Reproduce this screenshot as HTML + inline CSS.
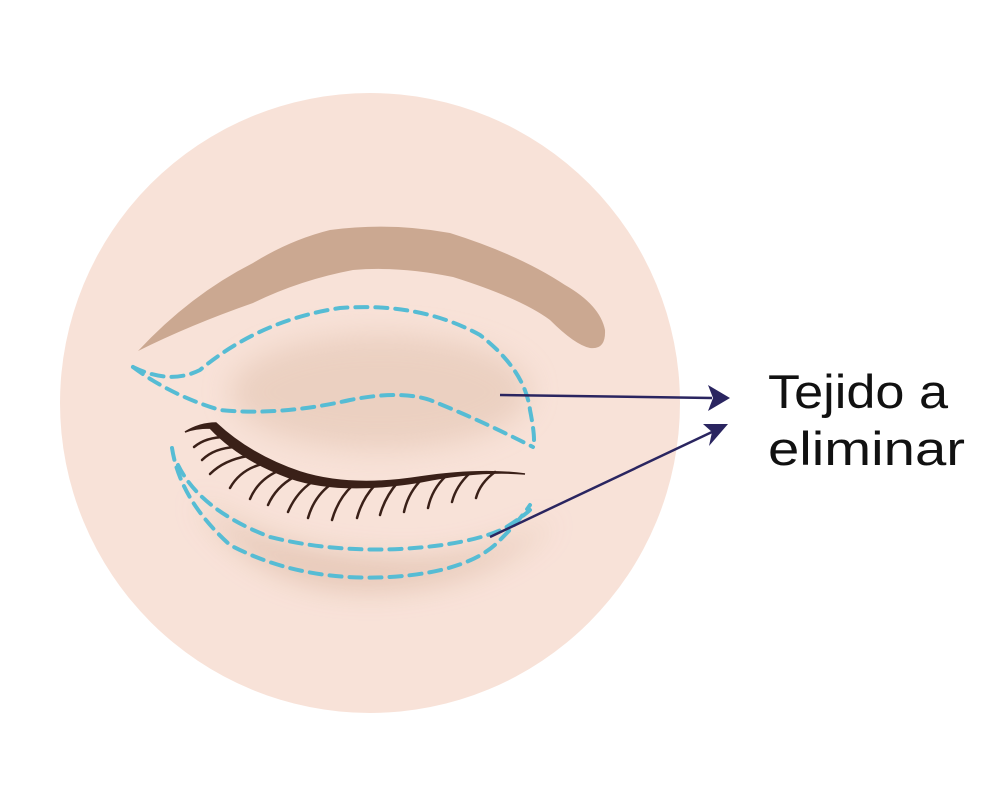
<!DOCTYPE html>
<html><head><meta charset="utf-8"><style>html,body{margin:0;padding:0;background:#fff}svg{display:block}</style></head>
<body>
<svg width="1000" height="800" viewBox="0 0 1000 800" xmlns="http://www.w3.org/2000/svg">
<defs>
<filter id="b" x="-50%" y="-50%" width="200%" height="200%"><feGaussianBlur stdDeviation="14"/></filter>
</defs>
<circle cx="370" cy="403" r="310" fill="#f8e2d8"/>
<ellipse cx="380" cy="392" rx="150" ry="58" fill="#e6c9b8" opacity="0.7" filter="url(#b)"/>
<path d="M195 500 Q260 595 380 590 Q490 585 555 520 Q470 565 380 558 Q270 552 195 500Z" fill="#e2c2b0" opacity="0.85" filter="url(#b)"/>
<!-- eyebrow -->
<path d="M138 351 Q190 295 253 263 Q290 240 330 230 Q390 222 450 233 Q520 255 565 285 Q600 305 605 330 Q606 350 590 348 Q575 345 550 320 Q520 298 453 277 Q400 266 353 270 Q300 280 253 303 Q190 325 138 351Z" fill="#cba891"/>
<g fill="none" stroke="#56bcd4" stroke-width="4" stroke-dasharray="12 8" stroke-linecap="round">
<path d="M133 367 Q170 385 200 370 Q260 320 340 308 Q420 302 480 335 Q525 370 530 410 Q536 440 533 447"/>
<path d="M133 367 Q170 395 220 410 Q280 416 350 400 Q400 390 430 400 Q480 420 533 447"/>
<path d="M172 448 Q180 500 230 545 Q300 582 390 577 Q470 572 500 540 Q520 520 530 505"/>
<path d="M178 465 Q200 510 270 537 Q330 552 400 549 Q470 545 505 528 Q525 515 530 510"/>
</g>
<path d="M185 432 Q200 423 216 423 Q250 455 300 472 Q350 488 420 477 Q480 468 525 474 Q480 470 420 482 Q340 495 290 478 Q240 460 210 428 Q195 428 185 432Z" fill="#3a2018" stroke="#3a2018" stroke-width="1.5"/>
<g stroke="#3a2018" stroke-width="2.5" fill="none" stroke-linecap="round">
<path d="M226 437 Q206 437 194 447"/>
<path d="M236 447 Q214 448 202 460"/>
<path d="M248 456 Q224 460 210 474"/>
<path d="M262 464 Q240 470 230 488"/>
<path d="M278 471 Q258 480 250 499"/>
<path d="M294 477 Q276 487 268 505"/>
<path d="M312 482 Q296 493 288 512"/>
<path d="M330 485 Q314 497 308 518"/>
<path d="M352 486 Q338 499 332 520"/>
<path d="M375 485 Q362 499 357 518"/>
<path d="M398 482 Q385 497 380 515"/>
<path d="M422 479 Q408 493 404 512"/>
<path d="M446 476 Q432 489 428 508"/>
<path d="M470 473 Q456 486 452 502"/>
<path d="M495 472 Q480 483 476 498"/>
</g>
<g stroke="#2a2560" stroke-width="2.5" fill="none">
<line x1="500" y1="395" x2="712" y2="398"/>
<line x1="490" y1="537" x2="712" y2="432"/>
</g>
<polygon points="730,398 708,385 713,398 708,411" fill="#2a2560"/>
<polygon points="728,424 703,424 712,432 709,446" fill="#2a2560"/>
<g font-family="Liberation Sans, sans-serif" font-size="47" fill="#111">
<text x="768" y="408" textLength="180" lengthAdjust="spacingAndGlyphs">Tejido a</text>
<text x="768" y="465" textLength="197" lengthAdjust="spacingAndGlyphs">eliminar</text>
</g>
</svg>
</body></html>
